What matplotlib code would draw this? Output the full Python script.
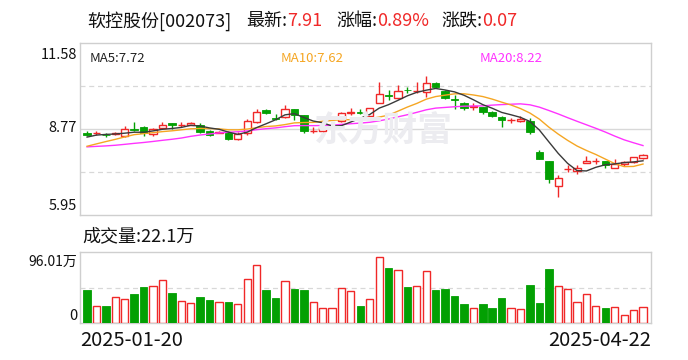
import matplotlib.pyplot as plt
import numpy as np

plt.rcParams['font.family'] = ['Noto Sans CJK SC', 'DejaVu Sans']

# ---- data (60 trading days) ----
first_date = "2025-01-20"
last_date = "2025-04-22"

opens = [8.64, 8.62, 8.58, 8.61, 8.54, 8.78, 8.83, 8.59, 8.81, 8.95,
         8.90, 8.91, 8.91, 8.71, 8.65, 8.64, 8.45, 8.62, 8.98, 9.39,
         9.12, 9.17, 9.41, 9.22, 8.69, 8.71, 8.85, 9.02, 9.29, 9.32,
         9.20, 9.62, 9.86, 9.77, 10.05, 10.00, 9.98, 10.28, 10.02, 9.74,
         9.60, 9.50, 9.48, 9.33, 9.16, 9.06, 9.03, 9.03, 8.02, 7.72,
         6.91, 7.44, 7.39, 7.64, 7.72, 7.72, 7.48, 7.62, 7.68, 7.83]
highs = [8.70, 8.70, 8.63, 8.67, 8.86, 8.98, 8.86, 8.81, 9.00, 8.95,
         9.00, 8.98, 8.97, 8.72, 8.70, 8.70, 8.66, 9.08, 9.41, 9.42,
         9.27, 9.55, 9.42, 9.23, 8.84, 8.86, 8.95, 9.33, 9.44, 9.41,
         9.46, 10.29, 10.04, 10.22, 10.15, 10.31, 10.50, 10.30, 10.04, 9.88,
         9.66, 9.61, 9.50, 9.34, 9.19, 9.14, 9.20, 9.12, 8.08, 7.72,
         7.26, 7.59, 7.59, 7.88, 7.81, 7.73, 7.77, 7.72, 7.84, 7.96]
lows = [8.54, 8.57, 8.50, 8.57, 8.51, 8.70, 8.53, 8.55, 8.78, 8.76,
        8.84, 8.90, 8.62, 8.52, 8.62, 8.40, 8.42, 8.57, 8.95, 9.24,
        9.06, 9.11, 9.06, 8.64, 8.64, 8.68, 8.77, 9.00, 9.22, 9.24,
        9.17, 9.60, 9.71, 9.75, 9.93, 9.93, 9.82, 10.11, 9.75, 9.41,
        9.40, 9.40, 9.26, 9.15, 8.84, 8.96, 9.01, 8.60, 7.78, 7.01,
        6.53, 7.37, 7.29, 7.64, 7.62, 7.48, 7.48, 7.55, 7.64, 7.79]
closes = [8.58, 8.63, 8.56, 8.62, 8.75, 8.74, 8.62, 8.78, 8.89, 8.88,
          8.91, 8.97, 8.66, 8.58, 8.66, 8.45, 8.60, 9.02, 9.33, 9.28,
          9.10, 9.41, 9.22, 8.70, 8.70, 8.82, 8.87, 9.28, 9.31, 9.30,
          9.44, 9.91, 9.85, 10.02, 10.04, 10.01, 10.26, 10.13, 9.77, 9.73,
          9.46, 9.52, 9.33, 9.18, 9.05, 9.07, 9.10, 8.66, 7.78, 7.13,
          7.17, 7.46, 7.48, 7.72, 7.73, 7.58, 7.61, 7.68, 7.84, 7.91]
# closes of the 19 days before the window, only used for the left end of the MA lines
prior_closes = [8.30, 8.25, 8.20, 8.15, 8.10, 8.05, 8.10, 8.15, 8.20, 8.10,
                7.85, 7.80, 7.90, 7.95, 8.00, 8.30, 8.45, 8.55, 8.62]
# volume in 万 shares
volumes = [44.0, 23.4, 23.6, 35.5, 32.8, 38.6, 49.3, 50.3, 58.3, 40.0,
           30.1, 27.4, 34.5, 30.5, 28.8, 27.8, 26.1, 59.7, 78.5, 44.0,
           33.6, 57.0, 46.6, 44.0, 28.8, 20.7, 20.7, 47.6, 43.6, 22.5,
           32.8, 89.7, 74.9, 71.8, 49.3, 50.3, 70.4, 44.0, 46.6, 36.3,
           25.3, 20.7, 25.5, 19.8, 33.2, 20.7, 19.4, 52.0, 26.5, 73.5,
           50.3, 46.2, 28.8, 39.5, 23.4, 19.8, 22.0, 11.3, 18.0, 22.1]

price_lo, price_hi = 5.95, 11.58
vol_top = 96.01
change = 0.07

RED = '#f02828'
GREEN = '#03a003'
GRID = '#d8d8d8'
EDGE = '#cfcfcf'
INK = '#111111'

o = np.array(opens)
h = np.array(highs)
l = np.array(lows)
c = np.array(closes)
v = np.array(volumes)
x = np.arange(len(c))
up = c >= o

all_c = np.array(prior_closes + closes)


def ma(n):
    return np.convolve(all_c, np.ones(n) / n, mode='valid')[-len(c):]


ma5, ma10, ma20 = ma(5), ma(10), ma(20)

fig = plt.figure(figsize=(6.88, 3.60), dpi=100)
W, H = 688, 360


def fx(px):
    return px / W


def fy(py):
    return 1 - py / H


ax = fig.add_axes([fx(80), fy(215), fx(571), 172 / H])
axv = fig.add_axes([fx(80), fy(323), fx(571), 71 / H])

for a in (ax, axv):
    a.set_xlim(-0.75, 59.85)
    a.set_xticks([])
    a.set_yticks([])
    for s in a.spines.values():
        s.set_color(EDGE)
        s.set_linewidth(1)

# price panel
ax.set_ylim(price_lo, price_hi)
span = price_hi - price_lo
ax.axhline(price_lo + span * 0.25, color=GRID, lw=0.9, ls=(0, (4, 3)), zorder=0)
ax.axhline(price_lo + span * 0.75, color=GRID, lw=0.9, ls=(0, (4, 3)), zorder=0)
ax.axhline(price_lo + span * 0.5, color=GRID, lw=1.0, zorder=0)

# watermark
fig.text(fx(314), fy(130), '东方财富', fontsize=25, fontweight='bold',
         color='#ececf0', ha='left', va='center', zorder=0)

body_lo = np.minimum(o, c)
body_hi = np.maximum(o, c)
body_h = np.maximum(body_hi - body_lo, 0.012)

# wicks
ax.vlines(x[up], l[up], body_lo[up], color=RED, lw=1, zorder=2)
ax.vlines(x[up], body_hi[up], h[up], color=RED, lw=1, zorder=2)
ax.vlines(x[~up], l[~up], h[~up], color=GREEN, lw=1, zorder=2)
# bodies
ax.bar(x[up], body_h[up], bottom=body_lo[up], width=0.76, facecolor='white',
       edgecolor=RED, linewidth=1, zorder=3)
ax.bar(x[~up], body_h[~up], bottom=body_lo[~up], width=0.8, facecolor=GREEN,
       edgecolor=GREEN, linewidth=0.6, zorder=3)

ax.plot(x, ma20, color='#ff33ff', lw=1, zorder=4)
ax.plot(x, ma10, color='#f5a623', lw=1, zorder=4)
ax.plot(x, ma5, color='#3a3a3a', lw=1, zorder=4)

# volume panel
axv.set_ylim(0, vol_top)
axv.axhline(vol_top / 2, color=GRID, lw=0.9, ls=(0, (4, 3)), zorder=0)
axv.bar(x[up], v[up], width=0.76, facecolor='white', edgecolor=RED,
        linewidth=1, zorder=3)
axv.bar(x[~up], v[~up], width=0.8, facecolor=GREEN, edgecolor=GREEN,
        linewidth=0.6, zorder=3)

# header
renderer = fig.canvas.get_renderer()
pct = change / (c[-1] - change) * 100


def run_text(px, py, parts, size):
    xf = fx(px)
    for s, col in parts:
        t = fig.text(xf, fy(py), s, color=col, fontsize=size, va='center', ha='left')
        xf = t.get_window_extent(renderer=renderer).x1 / fig.bbox.width


run_text(87, 21, [("软控股份[002073]", INK)], 13)
run_text(246, 21, [("最新:", INK), ("%.2f" % c[-1], RED)], 13)
run_text(336, 21, [("涨幅:", INK), ("%.2f%%" % pct, RED)], 13)
run_text(441, 21, [("涨跌:", INK), ("%.2f" % change, RED)], 13)

fig.text(fx(90), fy(58), "MA5:%.2f" % ma5[-1], color='#222222', fontsize=9.5, va='center')
fig.text(fx(281), fy(58), "MA10:%.2f" % ma10[-1], color='#f5a623', fontsize=9.5, va='center')
fig.text(fx(480), fy(58), "MA20:%.2f" % ma20[-1], color='#ff33ff', fontsize=9.5, va='center')

fig.text(fx(77), fy(55), "%.2f" % price_hi, ha='right', va='center', fontsize=10.5, color=INK)
fig.text(fx(77), fy(128), "%.2f" % ((price_hi + price_lo) / 2), ha='right', va='center', fontsize=10.5, color=INK)
fig.text(fx(77), fy(206), "%.2f" % price_lo, ha='right', va='center', fontsize=10.5, color=INK)

fig.text(fx(82), fy(236), "成交量:%.1f万" % v[-1], ha='left', va='center', fontsize=13, color=INK)
fig.text(fx(77), fy(262), "%.2f万" % vol_top, ha='right', va='center', fontsize=10, color=INK)
fig.text(fx(77), fy(316), "0", ha='right', va='center', fontsize=10.5, color=INK)

fig.text(fx(80), fy(340), first_date, ha='left', va='center', fontsize=14.5, color=INK)
fig.text(fx(651), fy(340), last_date, ha='right', va='center', fontsize=14.5, color=INK)

fig.savefig('out.png', dpi=100, facecolor='white')
